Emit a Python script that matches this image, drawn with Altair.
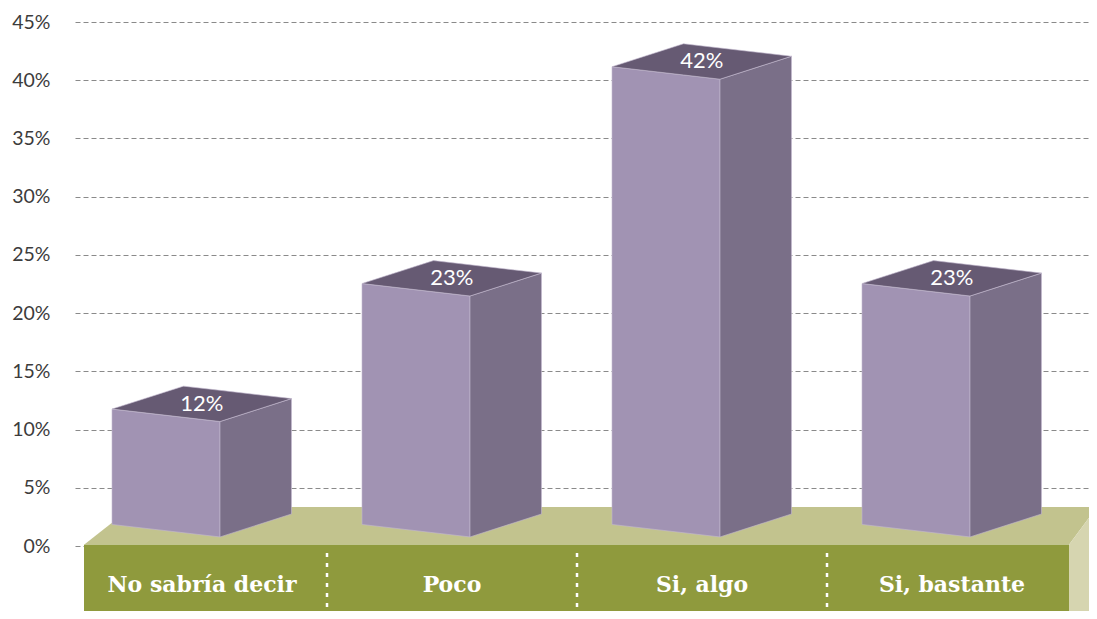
import altair as alt
import pandas as pd

# ---- data ----
categories = ["No sabría decir", "Poco", "Si, algo", "Si, bastante"]
values = [12, 23, 42, 23]
y_ticks = [0, 5, 10, 15, 20, 25, 30, 35, 40, 45]

# ---- 3D projection constants (axis units; x unit = one category) ----
FL = -0.36      # front-left edge of bar relative to category centre
W = 0.432       # front face width
DX = 0.286      # depth offset in x
DY = 1.97       # depth offset in y (percent units)
SLOPE = -1.07   # front face top/bottom slope across width
BASE = 1.85     # bar base level (on the floor)
HS = 0.98       # projection scale for bar heights

Y_MIN, Y_MAX = -5.58, 45
X_MIN, X_MAX = -0.508, 3.548
FLOOR_L, FLOOR_R = -0.472, 3.468
FLOOR_TOP, FLOOR_BACK = 0.1, 3.35
FLOOR_BACK_L = -0.28
FLOOR_BACK_R = 3.58

front, side, top, labels = [], [], [], []
for i, (c, v) in enumerate(zip(categories, values)):
    xl = i + FL
    xr = xl + W
    t = v * HS
    front += [dict(cat=c, u=xl, y=t, y2=BASE), dict(cat=c, u=xr, y=t + SLOPE, y2=BASE + SLOPE)]
    side += [dict(cat=c, u=xr, y=t + SLOPE, y2=BASE + SLOPE),
             dict(cat=c, u=xr + DX, y=t + SLOPE + DY, y2=BASE + SLOPE + DY)]
    frac = DX / W
    top += [dict(cat=c, u=xl, y=t, y2=t),
            dict(cat=c, u=xl + DX, y=t + DY, y2=t + SLOPE * frac),
            dict(cat=c, u=xr, y=t + DY + SLOPE * (1 - frac), y2=t + SLOPE),
            dict(cat=c, u=xr + DX, y=t + SLOPE + DY, y2=t + SLOPE + DY)]
    labels.append(dict(cat=c, u=xl + (W + DX) / 2, y=t + (DY + SLOPE) / 2, txt=f"{v}%"))

front = pd.DataFrame(front)
side = pd.DataFrame(side)
top = pd.DataFrame(top)
labels = pd.DataFrame(labels)
cats = pd.DataFrame(dict(cat=categories, u=list(range(len(categories))), y=-3.35))
dividers = pd.DataFrame(dict(u=[0.5, 1.5, 2.5], y=-0.6, y2=Y_MIN))
floor_front = pd.DataFrame([dict(u=FLOOR_L, u2=FLOOR_R, y=FLOOR_TOP, y2=Y_MIN)])

# floor top face (parallelogram seen in perspective), clipped at the right edge of the view
slope_r = (FLOOR_BACK - FLOOR_TOP) / (FLOOR_BACK_R - FLOOR_R)
y_at_edge = FLOOR_TOP + slope_r * (X_MAX - FLOOR_R)
floor_top = pd.DataFrame([
    dict(u=FLOOR_L, y=FLOOR_TOP, y2=FLOOR_TOP),
    dict(u=FLOOR_BACK_L, y=FLOOR_BACK, y2=FLOOR_TOP),
    dict(u=FLOOR_R, y=FLOOR_BACK, y2=FLOOR_TOP),
    dict(u=X_MAX, y=FLOOR_BACK, y2=y_at_edge),
])
floor_side = pd.DataFrame([
    dict(u=FLOOR_R, y=FLOOR_TOP, y2=Y_MIN),
    dict(u=X_MAX, y=y_at_edge, y2=Y_MIN),
])

xs = alt.Scale(domain=[X_MIN, X_MAX], nice=False, zero=False)
ys = alt.Scale(domain=[Y_MIN, Y_MAX], nice=False, zero=False)
yaxis = alt.Axis(values=y_ticks, labelExpr="datum.value + '%'", grid=True,
                 gridDash=[5, 3], gridColor="#8a8a8a", gridWidth=1,
                 domain=False, ticks=False, labelPadding=25, labelFont="Lato",
                 labelFontSize=19.5, labelColor="#3c3c3c", title=None)

X = alt.X("u:Q", scale=xs, axis=None)
Y = alt.Y("y:Q", scale=ys, axis=yaxis)

base_grid = alt.Chart(pd.DataFrame(dict(u=[0.0], y=[0.0]))).mark_point(opacity=0).encode(x=X, y=Y)

ftop = alt.Chart(floor_top).mark_area(color="#c2c38e", interpolate="linear").encode(x=X, y=Y, y2="y2:Q")
fside = alt.Chart(floor_side).mark_area(color="#d6d5b0").encode(x=X, y=Y, y2="y2:Q")
ffront = alt.Chart(floor_front).mark_rect(color="#8f9a3d").encode(x=X, x2="u2:Q", y=Y, y2="y2:Q")
divs = alt.Chart(dividers).mark_rule(color="white", strokeWidth=2.5, strokeDash=[4, 6]).encode(x=X, y=Y, y2="y2:Q")
cat_text = alt.Chart(cats).mark_text(font="DejaVu Serif", fontWeight="bold", fontSize=22,
                                     color="white", baseline="middle").encode(x=X, y=Y, text="cat:N")

edge = dict(stroke="#c4bad0", strokeWidth=0.6)
bfront = alt.Chart(front).mark_area(color="#a193b3", **edge).encode(x=X, y=Y, y2="y2:Q", detail="cat:N")
bside = alt.Chart(side).mark_area(color="#7a6f88", **edge).encode(x=X, y=Y, y2="y2:Q", detail="cat:N")
btop = alt.Chart(top).mark_area(color="#665a73", **edge).encode(x=X, y=Y, y2="y2:Q", detail="cat:N")
pct = alt.Chart(labels).mark_text(font="Lato", fontSize=22, color="white", baseline="middle").encode(
    x=X, y=Y, text="txt:N")

chart = alt.layer(base_grid, ftop, fside, ffront, divs, cat_text, bfront, bside, btop, pct).properties(
    width=1014, height=589, autosize=alt.AutoSizeParams(type="none"),
    padding={"left": 67, "top": 14, "right": 0, "bottom": 0},
).configure_view(stroke=None)

chart.save("out.html", embed_options={"renderer": "svg", "actions": False})
